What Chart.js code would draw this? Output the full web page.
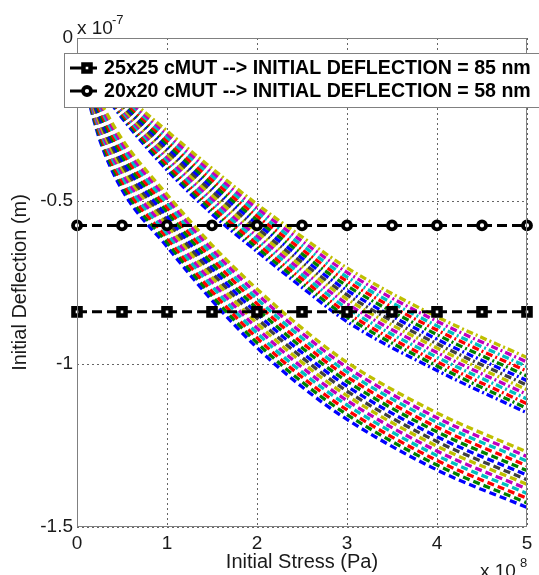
<!DOCTYPE html>
<html>
<head>
<meta charset="utf-8">
<script src="https://cdn.jsdelivr.net/npm/chart.js@4.4.1/dist/chart.umd.min.js"></script>
<style>
  html, body { margin: 0; padding: 0; background: #fff; }
</style>
</head>
<body>
<canvas id="deflectionChart" width="539" height="575"></canvas>
<script>
// stress samples (x 10^8 Pa)
const stressPoints = [0, 0.25, 0.5, 1, 1.5, 2, 2.5, 3, 4, 5];
const markerStress = [0, 0.5, 1, 1.5, 2, 2.5, 3, 3.5, 4, 4.5, 5];

// initial deflections of the two cMUT sizes (x 10^-7 m)
const deflection25 = -0.84;
const deflection20 = -0.575;
const legendLabels = [
  '25x25 cMUT --> INITIAL DEFLECTION = 85 nm',
  '20x20 cMUT --> INITIAL DEFLECTION = 58 nm'
];

// lower family ('--'), bottom curve first
const dashedCurves = [
  [-0.050, -0.31, -0.465, -0.640, -0.805, -0.950, -1.070, -1.170, -1.325, -1.440],
  [-0.050, -0.30, -0.452, -0.627, -0.791, -0.935, -1.055, -1.155, -1.310, -1.426],
  [-0.050, -0.29, -0.439, -0.613, -0.777, -0.920, -1.040, -1.141, -1.296, -1.412],
  [-0.050, -0.28, -0.426, -0.600, -0.762, -0.905, -1.025, -1.126, -1.281, -1.397],
  [-0.050, -0.27, -0.413, -0.587, -0.748, -0.890, -1.010, -1.112, -1.267, -1.383],
  [-0.050, -0.26, -0.400, -0.573, -0.734, -0.875, -0.995, -1.097, -1.252, -1.369],
  [-0.050, -0.25, -0.388, -0.560, -0.720, -0.860, -0.980, -1.083, -1.238, -1.355],
  [-0.050, -0.24, -0.375, -0.547, -0.706, -0.845, -0.965, -1.068, -1.223, -1.341],
  [-0.050, -0.23, -0.362, -0.533, -0.692, -0.830, -0.950, -1.053, -1.208, -1.327],
  [-0.050, -0.22, -0.349, -0.520, -0.677, -0.815, -0.935, -1.039, -1.194, -1.312],
  [-0.050, -0.21, -0.336, -0.507, -0.663, -0.800, -0.920, -1.024, -1.179, -1.298],
  [-0.050, -0.20, -0.323, -0.493, -0.649, -0.785, -0.905, -1.010, -1.165, -1.284],
  [-0.050, -0.19, -0.310, -0.480, -0.635, -0.770, -0.890, -0.995, -1.150, -1.270]
];

// upper family ('-.'), bottom curve first
const dashDotCurves = [
  [-0.050, -0.150, -0.245, -0.405, -0.540, -0.655, -0.765, -0.870, -1.020, -1.150],
  [-0.050, -0.145, -0.238, -0.395, -0.528, -0.643, -0.752, -0.856, -1.006, -1.136],
  [-0.050, -0.141, -0.232, -0.385, -0.517, -0.631, -0.739, -0.843, -0.993, -1.122],
  [-0.050, -0.136, -0.225, -0.375, -0.505, -0.619, -0.726, -0.829, -0.979, -1.107],
  [-0.050, -0.132, -0.218, -0.365, -0.493, -0.607, -0.713, -0.815, -0.965, -1.093],
  [-0.050, -0.127, -0.212, -0.355, -0.482, -0.595, -0.700, -0.801, -0.951, -1.079],
  [-0.050, -0.123, -0.205, -0.345, -0.470, -0.583, -0.688, -0.788, -0.938, -1.065],
  [-0.050, -0.118, -0.198, -0.335, -0.458, -0.570, -0.675, -0.774, -0.924, -1.051],
  [-0.050, -0.113, -0.192, -0.325, -0.447, -0.558, -0.662, -0.760, -0.910, -1.037],
  [-0.050, -0.109, -0.185, -0.315, -0.435, -0.546, -0.649, -0.746, -0.896, -1.022],
  [-0.050, -0.104, -0.178, -0.305, -0.423, -0.534, -0.636, -0.733, -0.883, -1.008],
  [-0.050, -0.100, -0.172, -0.295, -0.412, -0.522, -0.623, -0.719, -0.869, -0.994],
  [-0.050, -0.095, -0.165, -0.285, -0.400, -0.510, -0.610, -0.705, -0.855, -0.980]
];

// old matlab colour order
const lineColors = ['#0000ff', '#008000', '#ff0000', '#00bfbf', '#bf00bf', '#bfbf00', '#404040'];

const FONT = "'Liberation Sans', Arial, Helvetica, sans-serif";
const TEXT = '#1a1a1a';

function toPoints(ys, xs) {
  return ys.map((y, i) => ({ x: xs[i], y: y }));
}

function markerLine(label, y, style) {
  return {
    label: label,
    data: markerStress.map(x => ({ x: x, y: y })),
    borderColor: '#000',
    borderWidth: 3,
    borderDash: [10, 5],
    pointStyle: style,
    pointRadius: style === 'rect' ? 5 : 4,
    pointBorderWidth: style === 'rect' ? 4.5 : 3.8,
    pointBackgroundColor: '#fff',
    pointBorderColor: '#000',
    clip: false
  };
}

const datasets = [
  markerLine(legendLabels[0], deflection25, 'rect'),
  markerLine(legendLabels[1], deflection20, 'circle')
];

// top curves first so they sit on top like in matlab
for (let i = dashDotCurves.length - 1; i >= 0; i--) {
  datasets.push({
    label: 'upper ' + i,
    data: toPoints(dashDotCurves[i], stressPoints),
    borderColor: lineColors[i % lineColors.length],
    borderWidth: 3.3,
    borderDash: [7, 3, 2, 3],
    cubicInterpolationMode: 'monotone',
    pointRadius: 0
  });
}
for (let i = dashedCurves.length - 1; i >= 0; i--) {
  datasets.push({
    label: 'lower ' + i,
    data: toPoints(dashedCurves[i], stressPoints),
    borderColor: lineColors[i % lineColors.length],
    borderWidth: 3.3,
    borderDash: [7, 4],
    cubicInterpolationMode: 'monotone',
    pointRadius: 0
  });
}

// axes box, exponent labels and the matlab style legend
const matlabDecor = {
  id: 'matlabDecor',
  afterDatasetsDraw(chart) {
    const { ctx, chartArea: a } = chart;
    ctx.save();
    ctx.strokeStyle = '#808080';
    ctx.lineWidth = 1;
    ctx.strokeRect(a.left + 0.5, a.top + 0.5, a.right - a.left - 1, a.bottom - a.top - 1);
    ctx.restore();
  },
  afterDraw(chart) {
    const { ctx } = chart;
    ctx.save();
    ctx.fillStyle = TEXT;
    ctx.textBaseline = 'alphabetic';
    ctx.textAlign = 'left';

    // x 10^-7 on the y axis
    ctx.font = '19px ' + FONT;
    ctx.fillText('x 10', 77, 34);
    ctx.font = '13px ' + FONT;
    ctx.fillText('-7', 112, 24);

    // x 10^8 on the x axis
    ctx.font = '19px ' + FONT;
    ctx.fillText('x 10', 480, 577);
    ctx.font = '13px ' + FONT;
    ctx.fillText('8', 520, 567);

    // legend box
    ctx.fillStyle = '#fff';
    ctx.fillRect(64, 53, 490, 54);
    ctx.strokeStyle = '#808080';
    ctx.lineWidth = 1;
    ctx.strokeRect(64.5, 53.5, 490, 54);

    const rows = [68, 91];
    chart.data.datasets.slice(0, 2).forEach((ds, i) => {
      const y = rows[i];
      ctx.strokeStyle = '#000';
      ctx.lineWidth = 3;
      ctx.beginPath();
      ctx.moveTo(70, y);
      ctx.lineTo(97, y);
      ctx.stroke();

      ctx.fillStyle = '#fff';
      ctx.lineWidth = ds.pointBorderWidth;
      ctx.beginPath();
      if (ds.pointStyle === 'rect') {
        const s = ds.pointRadius / Math.SQRT2;
        ctx.rect(87 - s, y - s, 2 * s, 2 * s);
      } else {
        ctx.arc(87, y, ds.pointRadius, 0, Math.PI * 2);
      }
      ctx.fill();
      ctx.stroke();

      ctx.fillStyle = '#000';
      ctx.font = 'bold 19.6px ' + FONT;
      ctx.textBaseline = 'middle';
      ctx.fillText(ds.label, 104, y + 1);
    });
    ctx.restore();
  }
};

const ctx = document.getElementById('deflectionChart').getContext('2d');
new Chart(ctx, {
  type: 'line',
  data: { datasets: datasets },
  options: {
    responsive: false,
    animation: false,
    layout: { padding: { top: 38, right: 12, bottom: 0, left: 0 }, autoPadding: false },
    scales: {
      x: {
        type: 'linear',
        min: 0,
        max: 5,
        ticks: {
          stepSize: 1,
          padding: 5,
          color: TEXT,
          font: { family: FONT, size: 19 }
        },
        grid: { color: '#666', lineWidth: 1, drawTicks: false },
        border: { display: false, dash: [2, 3] },
        title: {
          display: true,
          text: 'Initial Stress (Pa)',
          color: TEXT,
          font: { family: FONT, size: 20 },
          padding: { top: 0, bottom: 1 }
        },
        afterFit: s => { s.height = 48; }
      },
      y: {
        type: 'linear',
        min: -1.5,
        max: 0,
        ticks: {
          stepSize: 0.5,
          padding: 4,
          color: TEXT,
          font: { family: FONT, size: 19 },
          callback: v => String(Math.round(v * 10) / 10)
        },
        grid: { color: '#666', lineWidth: 1, drawTicks: false },
        border: { display: false, dash: [2, 3] },
        title: {
          display: true,
          text: 'Initial Deflection (m)',
          color: TEXT,
          font: { family: FONT, size: 20 },
          padding: { top: 8, bottom: 0 }
        },
        afterFit: s => { s.width = 77; }
      }
    },
    plugins: {
      legend: { display: false },
      tooltip: { enabled: false }
    }
  },
  plugins: [matlabDecor]
});
</script>
</body>
</html>
